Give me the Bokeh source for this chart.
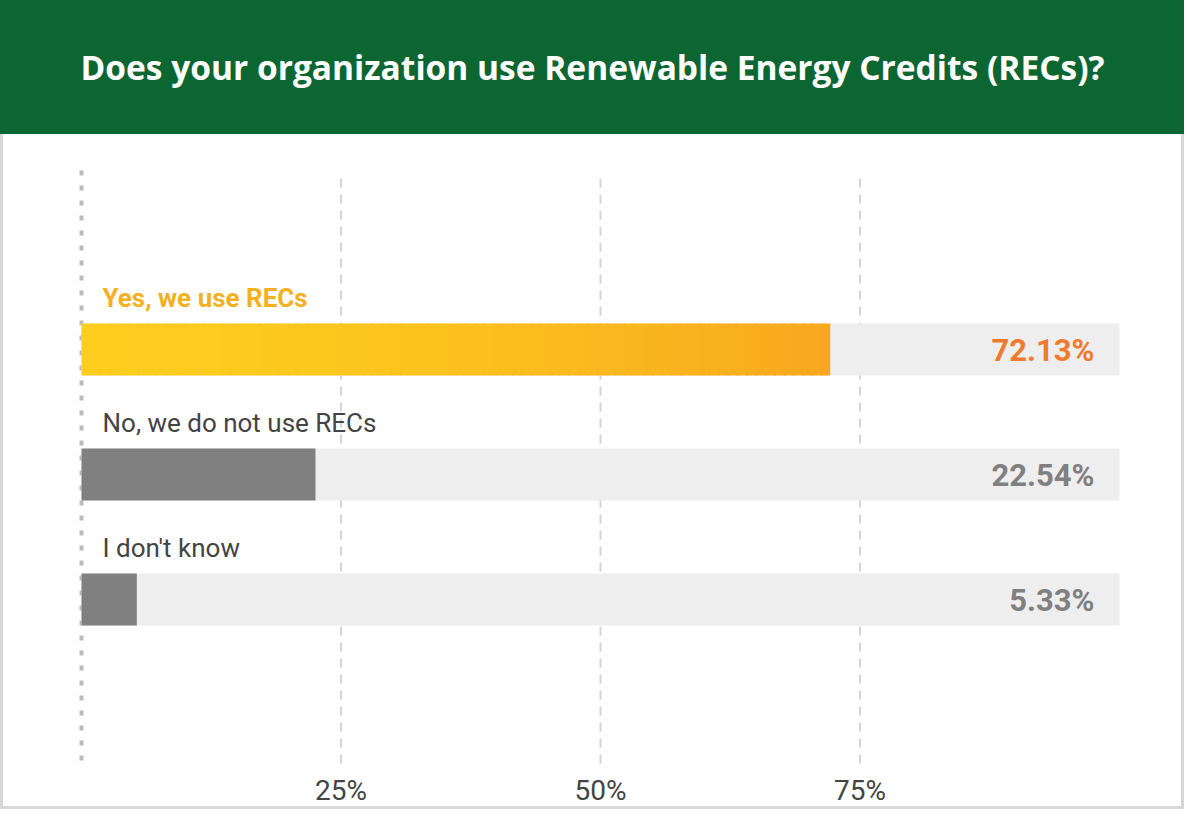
from bokeh.plotting import figure
from bokeh.layouts import column
from bokeh.models import ColumnDataSource, Range1d, FixedTicker
from bokeh.core.properties import value
from bokeh.embed import file_html
from bokeh.resources import INLINE

# ---- data ----
title_text = "Does your organization use Renewable Energy Credits (RECs)?"
categories = ["Yes, we use RECs", "No, we do not use RECs", "I don't know"]
percentages = [72.13, 22.54, 5.33]
tick_values = [25, 50, 75]
tick_labels = ["25%", "50%", "75%"]
full_scale = 100

W = 1184
HEADER_H = 134
MAIN_H = 809 - HEADER_H
GREEN = "#0c6632"
EDGE = "#d8d8d8"

# ---- header ----
hdr = figure(width=W, height=HEADER_H, x_range=Range1d(0, 1), y_range=Range1d(0, 1),
             output_backend="svg", toolbar_location=None, min_border=0,
             styles={"background-color": GREEN})
hdr.background_fill_color = None
hdr.border_fill_color = None
hdr.outline_line_color = None
hdr.axis.visible = False
hdr.grid.visible = False
hdr.text(x=[0.5], y=[0.505], text=[title_text], text_align="center", text_baseline="middle",
         text_color="white", text_font=value("Open Sans"), text_font_style="bold",
         text_font_size="33.5px")

# ---- main chart ----
n = len(categories)
ypos = [n - 1 - i for i in range(n)]  # first category on top

PX_PER_UNIT = 10.38
x_start = -81 / PX_PER_UNIT
x_end = x_start + W / PX_PER_UNIT
FRAME_H = 634
y_top = (n - 1) + 215 / 125
y_bot = y_top - FRAME_H / 125

p = figure(width=W, height=MAIN_H, x_range=Range1d(x_start, x_end), y_range=Range1d(y_bot, y_top),
           output_backend="svg", toolbar_location=None,
           min_border_left=0, min_border_right=0, min_border_top=0, min_border_bottom=0,
           styles={"background-color": "white",
                   "box-shadow": f"inset 3px 0 0 {EDGE}, inset -3px 0 0 {EDGE}, inset 0 -3px 0 {EDGE}"})
p.outline_line_color = None
p.background_fill_color = None
p.border_fill_color = None

BAR_H = 52 / 125

# background track bars
p.hbar(y=ypos, left=0, right=[full_scale] * n, height=BAR_H,
       fill_color="#eeeeee", line_color=None)

# gray bars for non-highlighted categories
p.hbar(y=ypos[1:], left=0, right=percentages[1:], height=BAR_H,
       fill_color="#808080", line_color=None)

# highlighted bar: left-to-right gradient built from thin overlapping strips
def hex2rgb(h):
    h = h.lstrip("#")
    return tuple(int(h[i:i + 2], 16) for i in (0, 2, 4))

c0, c1 = hex2rgb("#fecd1e"), hex2rgb("#f8a81e")
n_strips = 80
v0 = percentages[0]
lefts = [v0 * i / n_strips for i in range(n_strips)]
rights = [min(v0, v0 * (i + 1) / n_strips + 0.15) for i in range(n_strips)]
cols = []
for i in range(n_strips):
    t = (i / (n_strips - 1)) ** 1.6
    r, g, b = (round(c0[k] + (c1[k] - c0[k]) * t) for k in range(3))
    cols.append("#%02x%02x%02x" % (r, g, b))
p.hbar(y=[ypos[0]] * n_strips, left=lefts, right=rights, height=BAR_H,
       fill_color=cols, line_color=None)

# category labels above bars
label_colors = ["#f4b020"] + ["#444444"] * (n - 1)
label_styles = ["bold"] + ["normal"] * (n - 1)
lab_src = ColumnDataSource(dict(y=ypos, x=[0] * n, text=categories,
                                color=label_colors, style=label_styles))
p.text(x="x", y="y", text="text", source=lab_src, x_offset=21, y_offset=-52,
       text_align="left", text_baseline="middle", text_color="color",
       text_font_style="style", text_font=value("Roboto"), text_font_size="26px")

# value labels inside track at right
val_colors = ["#ee7b2e"] + ["#808080"] * (n - 1)
val_src = ColumnDataSource(dict(y=ypos, x=[full_scale] * n,
                                text=["%.2f%%" % v for v in percentages], color=val_colors))
p.text(x="x", y="y", text="text", source=val_src, x_offset=-25, y_offset=1,
       text_align="right", text_baseline="middle", text_color="color",
       text_font_style="bold", text_font=value("Roboto"), text_font_size="31px")

# dashed grid lines and dotted zero line
g_top = y_top - 44 / 125
g_bot = y_bot + 3 / 125
p.segment(x0=tick_values, x1=tick_values, y0=g_top, y1=g_bot, line_color="#d6d6d6",
          line_width=2, line_dash="9 7", level="underlay")
p.segment(x0=[0], x1=[0], y0=y_top - 36 / 125, y1=y_bot, line_color="#bbbbbb",
          line_width=4, line_dash="5 10", level="underlay")

# axes
p.yaxis.visible = False
p.grid.visible = False
p.xaxis.ticker = FixedTicker(ticks=tick_values)
p.xaxis.major_label_overrides = {v: l for v, l in zip(tick_values, tick_labels)}
p.xaxis.axis_line_color = None
p.xaxis.major_tick_line_color = None
p.xaxis.minor_tick_line_color = None
p.xaxis.major_tick_out = 0
p.xaxis.major_tick_in = 0
p.xaxis.major_label_standoff = 5
p.xaxis.major_label_text_font = "Roboto"
p.xaxis.major_label_text_font_size = "28px"
p.xaxis.major_label_text_color = "#444444"

layout = column(hdr, p, spacing=0)
open("out.html", "w").write(file_html(layout, INLINE))
